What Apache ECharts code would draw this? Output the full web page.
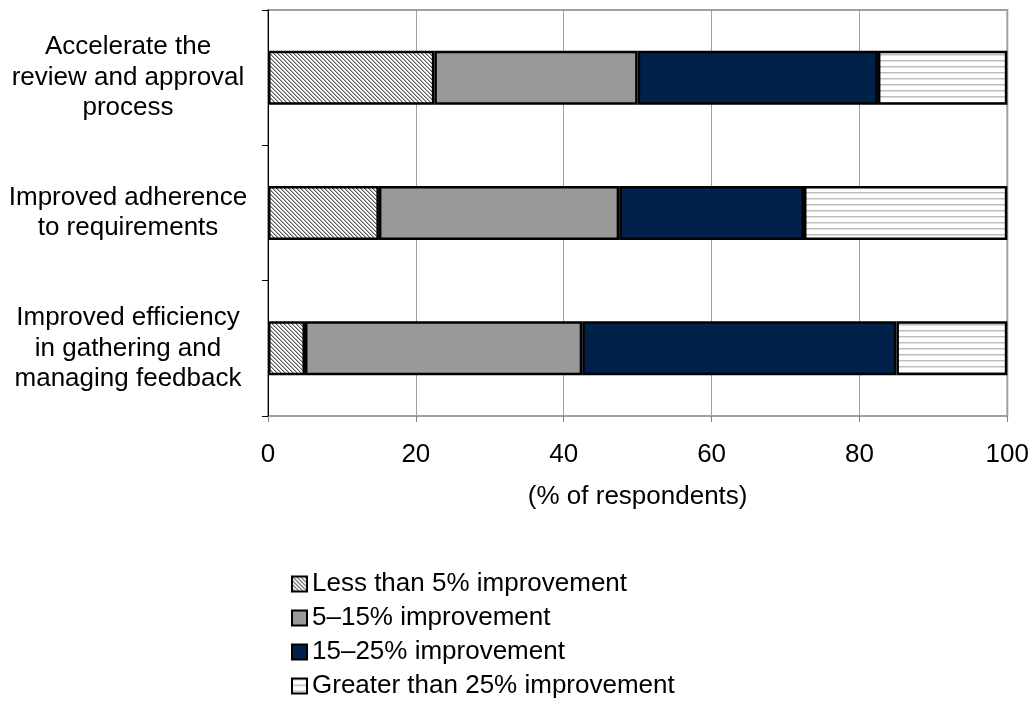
<!DOCTYPE html>
<html>
<head>
<meta charset="utf-8">
<script src="https://cdn.jsdelivr.net/npm/echarts@6/dist/echarts.min.js"></script>
<style>
  html, body { margin: 0; padding: 0; background: #fff; }
  #chart { width: 1032px; height: 705px; }
</style>
</head>
<body>
<div id="chart"></div>
<script>
// Survey categories (top to bottom)
const categories = [
  'Accelerate the\nreview and approval\nprocess',
  'Improved adherence\nto requirements',
  'Improved efficiency\nin gathering and\nmanaging feedback'
];
const seriesNames = [
  'Less than 5% improvement',
  '5\u201315% improvement',
  '15\u201325% improvement',
  'Greater than 25% improvement'
];
// Share of respondents (%) per improvement band
const lessThan5 = [22.5, 15, 5];
const from5to15 = [27.5, 32.5, 37.5];
const from15to25 = [32.5, 25, 42.5];
const over25 = [17.5, 27.5, 15];
const xTicks = [0, 20, 40, 60, 80, 100];

// Small tiled canvases used as fill patterns
function makeTile(w, h, draw) {
  const c = document.createElement('canvas');
  c.width = w; c.height = h;
  const ctx = c.getContext('2d');
  ctx.fillStyle = '#ffffff';
  ctx.fillRect(0, 0, w, h);
  draw(ctx);
  return c;
}
const diagTile = makeTile(4, 4, ctx => {
  for (let i = 0; i < 4; i++) {
    ctx.fillStyle = '#5a5a5a';
    ctx.fillRect(i, i, 1, 1);
    ctx.fillStyle = '#b0b0b0';
    ctx.fillRect((i + 1) % 4, i, 1, 1);
  }
});
const stripeTile = makeTile(4, 6, ctx => {
  ctx.fillStyle = '#bdbdbd';
  ctx.fillRect(0, 0, 4, 1);
  ctx.fillStyle = '#dedede';
  ctx.fillRect(0, 1, 4, 1);
});

const fills = [
  { image: diagTile, repeat: 'repeat' },
  '#999999',
  '#00214a',
  { image: stripeTile, repeat: 'repeat' }
];
const values = [lessThan5, from5to15, from15to25, over25];

const chart = echarts.init(document.getElementById('chart'), null, { renderer: 'canvas' });
const font = '"Liberation Sans", Arial, sans-serif';

chart.setOption({
  animation: false,
  backgroundColor: '#ffffff',
  textStyle: { fontFamily: font },
  grid: {
    left: 268, right: 24, top: 10, bottom: 289,
    show: true, borderColor: '#a0a0a0', borderWidth: 2
  },
  xAxis: {
    type: 'value',
    min: xTicks[0],
    max: xTicks[xTicks.length - 1],
    interval: 20,
    name: '(% of respondents)',
    nameLocation: 'middle',
    nameGap: 68,
    nameTextStyle: { fontSize: 26, color: '#000', fontFamily: font },
    axisLine: { show: false },
    axisTick: { show: true, length: 6, lineStyle: { color: '#808080' } },
    splitLine: { show: true, lineStyle: { color: '#a0a0a0', width: 1 } },
    axisLabel: { fontSize: 26, color: '#000', margin: 26, fontFamily: font }
  },
  yAxis: {
    type: 'category',
    data: categories,
    inverse: true,
    axisLine: { show: true, lineStyle: { color: '#000', width: 1 } },
    axisTick: { show: true, length: 6, lineStyle: { color: '#000' } },
    axisLabel: {
      fontSize: 26, lineHeight: 30.5, color: '#000', align: 'center',
      margin: 140, fontFamily: font
    }
  },
  legend: {
    orient: 'vertical',
    left: 286,
    top: 566,
    itemWidth: 15,
    itemHeight: 15,
    itemGap: 8,
    icon: 'rect',
    data: seriesNames,
    textStyle: { fontSize: 26, color: '#000', fontFamily: font, padding: [0, 0, 0, 0] },
    itemStyle: { borderColor: '#000', borderWidth: 2 }
  },
  series: seriesNames.map((name, i) => ({
    name: name,
    type: 'bar',
    stack: 'total',
    barWidth: 54,
    data: values[i],
    itemStyle: { color: fills[i], borderColor: '#000', borderWidth: 2.5 },
    emphasis: { disabled: true }
  }))
});
</script>
</body>
</html>
